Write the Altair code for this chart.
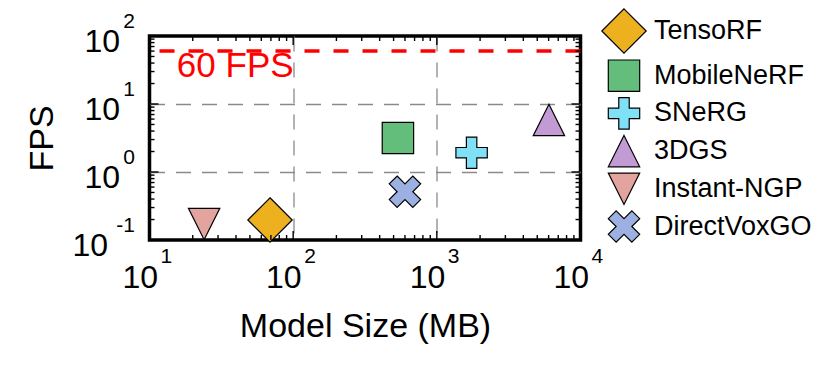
import altair as alt
import pandas as pd

# ---- data ----
methods = ["TensoRF", "MobileNeRF", "SNeRG", "3DGS", "Instant-NGP", "DirectVoxGO"]
model_size_mb = [69, 536, 1746, 6030, 24, 600]
fps = [0.197, 3.16, 1.92, 5.82, 0.172, 0.513]
colors = ["#EDB120", "#63BE7B", "#80E0F5", "#C29AD4", "#E3A39E", "#9DB0E2"]
shapes = [
    "M0,-1.414L1.414,0L0,1.414L-1.414,0Z",
    "M-1,-1L1,-1L1,1L-1,1Z",
    "M-0.333,-1L0.333,-1L0.333,-0.333L1,-0.333L1,0.333L0.333,0.333L0.333,1L-0.333,1L-0.333,0.333L-1,0.333L-1,-0.333L-0.333,-0.333Z",
    "M0,-1L1,1L-1,1Z",
    "M-1,-1L1,-1L0,1Z",
    "M-0.5,-1L0,-0.5L0.5,-1L1,-0.5L0.5,0L1,0.5L0.5,1L0,0.5L-0.5,1L-1,0.5L-0.5,0L-1,-0.5Z",
]

x_major = [10, 100, 1000, 10000]
x_exp = ["1", "2", "3", "4"]
y_major = [0.1, 1, 10, 100]
y_exp = ["-1", "0", "1", "2"]
x_minor = [20, 30, 40, 50, 60, 70, 80, 90,
           200, 300, 400, 500, 600, 700, 800, 900,
           2000, 3000, 4000, 5000, 6000, 7000, 8000, 9000]
y_minor = [0.2, 0.3, 0.4, 0.5, 0.6, 0.7, 0.8, 0.9,
           2, 3, 4, 5, 6, 7, 8, 9,
           20, 30, 40, 50, 60, 70, 80, 90]
x_grid = [100, 1000]
y_grid = [1, 10]

target_fps = [60]
target_label = ["60 FPS"]
target_label_x = [15.5]
target_label_y = [25]

W, H = 431, 204
FONT = "Liberation Sans"

xs = alt.Scale(type="log", domain=[10, 10000], nice=False)
ys = alt.Scale(type="log", domain=[0.1, 100], nice=False)

x_axis = alt.Axis(
    values=x_grid, grid=True, gridDash=[15, 11], gridColor="#8a8a8a",
    gridWidth=1.3, gridOpacity=1, labels=False, ticks=False, domain=False,
    title="Model Size (MB)", titleFont=FONT, titleFontSize=34,
    titleFontWeight="normal", titleColor="black", titlePadding=69)
y_axis = alt.Axis(
    values=y_grid, grid=True, gridDash=[15, 11], gridColor="#8a8a8a",
    gridWidth=1.3, gridOpacity=1, labels=False, ticks=False, domain=False,
    title="FPS", titleFont=FONT, titleFontSize=34,
    titleFontWeight="normal", titleColor="black", titlePadding=90)

def X(field):
    return alt.X(field, scale=xs, axis=x_axis)

def Y(field):
    return alt.Y(field, scale=ys, axis=y_axis)

df = pd.DataFrame({"method": methods, "size": model_size_mb, "fps": fps})

legend = alt.Legend(
    title=None, orient="none", legendX=458, legendY=-21.5, padding=0,
    labelFont=FONT, labelFontSize=27, labelColor="black", labelOffset=13.5,
    labelLimit=400, symbolSize=985, symbolStrokeColor="black",
    symbolStrokeWidth=1.2, symbolOpacity=1, rowPadding=0.7,
)

points = alt.Chart(df).mark_point(
    filled=True, strokeWidth=1.2, size=985, opacity=1
).encode(
    x=X("size:Q"),
    y=Y("fps:Q"),
    color=alt.Color("method:N", scale=alt.Scale(domain=methods, range=colors), legend=legend),
    shape=alt.Shape("method:N", scale=alt.Scale(domain=methods, range=shapes), legend=legend),
    stroke=alt.Stroke("method:N", scale=alt.Scale(domain=methods, range=["black"] * len(methods)), legend=legend),
)

# 60 FPS target line and label
tdf = pd.DataFrame({"fps": target_fps})
target = alt.Chart(tdf).mark_rule(color="#FF0000", strokeWidth=3.5, strokeDash=[15, 14]).encode(
    y=Y("fps:Q")
)
ldf = pd.DataFrame({"size": target_label_x, "fps": target_label_y, "t": target_label})
target_text = alt.Chart(ldf).mark_text(
    align="left", baseline="alphabetic", color="#FF0000", font=FONT, fontSize=35
).encode(x=X("size:Q"), y=Y("fps:Q"), text="t:N")

# inward ticks on all four sides
xmaj = pd.DataFrame({"size": x_major, "e": x_exp})
xmin = pd.DataFrame({"size": x_minor})
ymaj = pd.DataFrame({"fps": y_major, "e": y_exp})
ymin = pd.DataFrame({"fps": y_minor})

def xticks(d, length):
    base = alt.Chart(d).mark_rule(color="black", strokeWidth=1.4)
    bottom = base.encode(x=X("size:Q"), y=alt.value(H), y2=alt.value(H - length))
    top = base.encode(x=X("size:Q"), y=alt.value(0), y2=alt.value(length))
    return [bottom, top]

def yticks(d, length):
    base = alt.Chart(d).mark_rule(color="black", strokeWidth=1.4)
    left = base.encode(y=Y("fps:Q"), x=alt.value(0), x2=alt.value(length))
    right = base.encode(y=Y("fps:Q"), x=alt.value(W), x2=alt.value(W - length))
    return [left, right]

tick_layers = xticks(xmaj, 9) + xticks(xmin, 5) + yticks(ymaj, 9) + yticks(ymin, 5)

# tick labels as 10 with superscript exponents
x_base = alt.Chart(xmaj).mark_text(
    text="10", align="right", baseline="alphabetic", dx=8.5, font=FONT, fontSize=32, color="black"
).encode(x=X("size:Q"), y=alt.value(H + 48))
x_sup = alt.Chart(xmaj).mark_text(
    align="left", baseline="alphabetic", dx=11, font=FONT, fontSize=21, color="black"
).encode(x=X("size:Q"), y=alt.value(H + 23), text="e:N")

y_base_pos = alt.Chart(ymaj).transform_filter("datum.e != '-1'").mark_text(
    text="10", align="right", baseline="alphabetic", dx=-29.5, dy=16, font=FONT, fontSize=32, color="black"
).encode(y=Y("fps:Q"), x=alt.value(0))
y_base_neg = alt.Chart(ymaj).transform_filter("datum.e == '-1'").mark_text(
    text="10", align="right", baseline="alphabetic", dx=-41.5, dy=16, font=FONT, fontSize=32, color="black"
).encode(y=Y("fps:Q"), x=alt.value(0))
y_sup = alt.Chart(ymaj).mark_text(
    align="right", baseline="alphabetic", dx=-14.5, dy=-8, font=FONT, fontSize=21, color="black"
).encode(y=Y("fps:Q"), x=alt.value(0), text="e:N")

chart = alt.layer(
    points, target, target_text, *tick_layers, x_base, x_sup, y_base_pos, y_base_neg, y_sup
).properties(
    width=W, height=H,
    padding={"left": 141.5, "top": 28, "right": 240, "bottom": 110},
    autosize=alt.AutoSizeParams(type="none"),
).configure_view(stroke="black", strokeWidth=3.5)

chart.save("out.html", embed_options={"renderer": "svg", "actions": False})
